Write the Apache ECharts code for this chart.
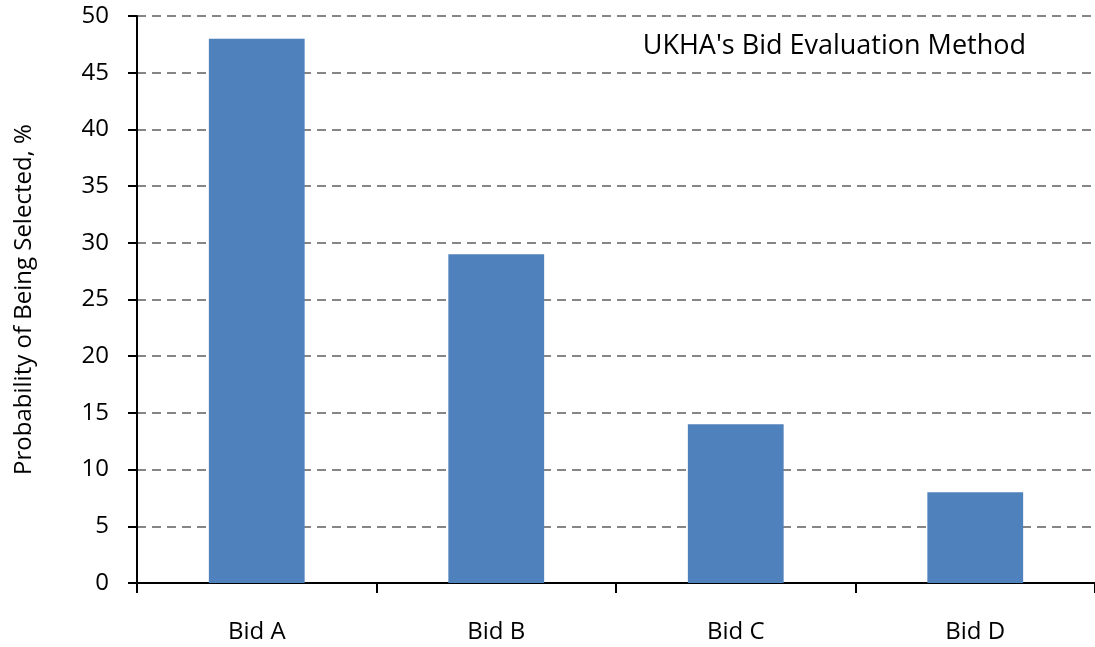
<!DOCTYPE html>
<html>
<head>
<meta charset="utf-8">
<script src="https://cdn.jsdelivr.net/npm/echarts@6/dist/echarts.min.js"></script>
<style>
  html, body { margin: 0; padding: 0; background: #fff; }
  #chart { width: 1095px; height: 647px; }
</style>
</head>
<body>
<div id="chart"></div>
<script>
const categories = ['Bid A', 'Bid B', 'Bid C', 'Bid D'];
const probabilities = [48, 29, 14, 8];
const yTicks = { min: 0, max: 50, interval: 5 };
const titleText = "UKHA's Bid Evaluation Method";
const yAxisTitle = 'Probability of Being Selected, %';

const fontFamily = '"Open Sans", "Noto Sans", sans-serif';
const chart = echarts.init(document.getElementById('chart'), null, { renderer: 'canvas' });

chart.setOption({
  animation: false,
  backgroundColor: '#ffffff',
  title: {
    text: titleText,
    right: 64,
    top: 28,
    textStyle: { fontFamily, fontSize: 27, fontWeight: 'normal', color: '#000' }
  },
  grid: { left: 137, right: -2, top: 16, bottom: 64 },
  xAxis: {
    type: 'category',
    data: categories,
    axisLine: { lineStyle: { color: '#000', width: 2 } },
    axisTick: { show: true, inside: false, length: 10, alignWithLabel: false, lineStyle: { color: '#000', width: 2 } },
    axisLabel: { fontFamily, fontSize: 24, color: '#000', margin: 37 }
  },
  yAxis: {
    type: 'value',
    min: yTicks.min,
    max: yTicks.max,
    interval: yTicks.interval,
    name: yAxisTitle,
    nameLocation: 'middle',
    nameGap: 101,
    nameRotate: 90,
    nameTextStyle: { fontFamily, fontSize: 24, color: '#000' },
    axisLine: { show: true, lineStyle: { color: '#000', width: 2 } },
    axisTick: { show: true, length: 9, lineStyle: { color: '#000', width: 2 } },
    axisLabel: { fontFamily, fontSize: 24, color: '#000', margin: 28 },
    splitLine: { show: true, lineStyle: { color: '#868686', width: 2, type: [9, 6] } }
  },
  series: [{
    type: 'bar',
    data: probabilities,
    barWidth: '40%',
    itemStyle: { color: '#4f81bd' }
  }]
});
</script>
</body>
</html>
